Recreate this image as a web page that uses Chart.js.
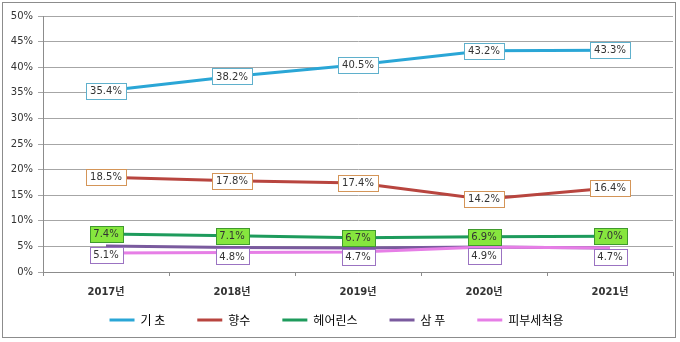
<!DOCTYPE html>
<html><head><meta charset="utf-8">
<script src="https://cdn.jsdelivr.net/npm/chart.js@4.4.1/dist/chart.umd.min.js"></script>
<style>html,body{margin:0;padding:0;background:#fff}#wrap{width:680px;height:342px;position:relative}</style>
</head><body><div id="wrap"><canvas id="c" width="680" height="342"></canvas></div>
<script>
const categories = ['2017년','2018년','2019년','2020년','2021년'];
const seriesNames = ['기 초','향수','헤어린스','삼 푸','피부세척용'];
const basic = [35.4, 38.2, 40.5, 43.2, 43.3];
const perfume = [18.5, 17.8, 17.4, 14.2, 16.4];
const rinse = [7.4, 7.1, 6.7, 6.9, 7.0];
const shampoo = [5.1, 4.8, 4.7, 4.9, 4.7];
const cleanser = [3.7, 3.8, 3.9, 4.9, 4.7];
const yTicks = [0,5,10,15,20,25,30,35,40,45,50];

const lineColors = ['#2aa6d6','#b8453f','#1e9b5c','#7a5a9e','#e67ee6'];
const labelStyles = [
  {border:'#5fb0cc', fill:'#ffffff', pos:'center'},
  {border:'#d49558', fill:'#ffffff', pos:'center'},
  {border:'#3f9a2e', fill:'#86e63e', pos:'center'},
  {border:'#9b73c2', fill:'#ffffff', pos:'below'},
  null
];

const labelPlugin = {
  id:'boxLabels',
  afterLayout(chart){
    const l = chart.legend;
    if (l) { l.top -= 18; }
  },
  afterDatasetsDraw(chart){
    const ctx = chart.ctx;
    ctx.save();
    ctx.font = '10px "DejaVu Sans"';
    ctx.textAlign = 'center';
    ctx.textBaseline = 'middle';
    chart.data.datasets.forEach((ds, i) => {
      const st = labelStyles[i];
      if (!st) return;
      const meta = chart.getDatasetMeta(i);
      meta.data.forEach((pt, j) => {
        const txt = ds.data[j].toFixed(1) + '%';
        const w = Math.round(ctx.measureText(txt).width) + 8;
        const h = 16;
        let cy = pt.y;
        if (st.pos === 'below') cy = pt.y + 9;
        const x0 = Math.round(pt.x - w/2) + 0.5, y0 = Math.round(cy - h/2) + 0.5;
        ctx.fillStyle = st.fill;
        ctx.fillRect(x0, y0, w, h);
        ctx.strokeStyle = st.border;
        ctx.lineWidth = 1;
        ctx.strokeRect(x0, y0, w, h);
        ctx.fillStyle = '#333333';
        ctx.fillText(txt, pt.x, cy + 0.5);
      });
    });
    ctx.restore();
  },
  afterDraw(chart){
    const ctx = chart.ctx;
    ctx.save();
    ctx.strokeStyle = '#8c8c8c';
    ctx.lineWidth = 1;
    ctx.strokeRect(2.5, 2.5, 673, 335);
    ctx.restore();
  }
};

const data = [basic, perfume, rinse, shampoo, cleanser];
new Chart(document.getElementById('c'), {
  type:'line',
  data:{
    labels: categories,
    datasets: data.map((d,i)=>({
      label: seriesNames[i],
      data: d,
      borderColor: lineColors[i],
      backgroundColor: lineColors[i],
      borderWidth: 3,
      pointRadius: 0,
      tension: 0,
      order: 4 - i
    }))
  },
  options:{
    responsive:false,
    animation:false,
    layout:{padding:{left:0,right:7,top:16,bottom:7}},
    plugins:{
      tooltip:{enabled:false},
      legend:{
        position:'bottom',
        maxHeight:35,
        labels:{
          boxWidth:25, boxHeight:3, padding:32,
          color:'#333', font:{family:'"Noto Sans CJK KR","DejaVu Sans"', size:12},
          generateLabels(chart){
            return chart.data.datasets.map((ds,i)=>({
              text: ds.label, fillStyle: lineColors[i], strokeStyle: lineColors[i],
              lineWidth:0, datasetIndex:i, hidden:false
            }));
          }
        }
      }
    },
    scales:{
      x:{
        offset:true,
        grid:{offset:true, drawOnChartArea:false, tickLength:4, color:'#8c8c8c'},
        border:{color:'#8c8c8c'},
        ticks:{padding:10, color:'#333', font:{family:'"DejaVu Sans","Noto Sans CJK KR"', size:10, weight:'bold'}, maxRotation:0},
        afterFit(s){ s.height = 28; }
      },
      y:{
        min:0, max:50,
        afterBuildTicks(s){ s.ticks = yTicks.map(v=>({value:v})); },
        grid:{color:'#a6a6a6', tickLength:5},
        border:{color:'#8c8c8c'},
        ticks:{padding:5, color:'#333', font:{family:'"DejaVu Sans"', size:10}, callback:v=>v+'%'},
        afterFit(s){ s.width = 43; }
      }
    }
  },
  plugins:[labelPlugin]
});
</script></body></html>
